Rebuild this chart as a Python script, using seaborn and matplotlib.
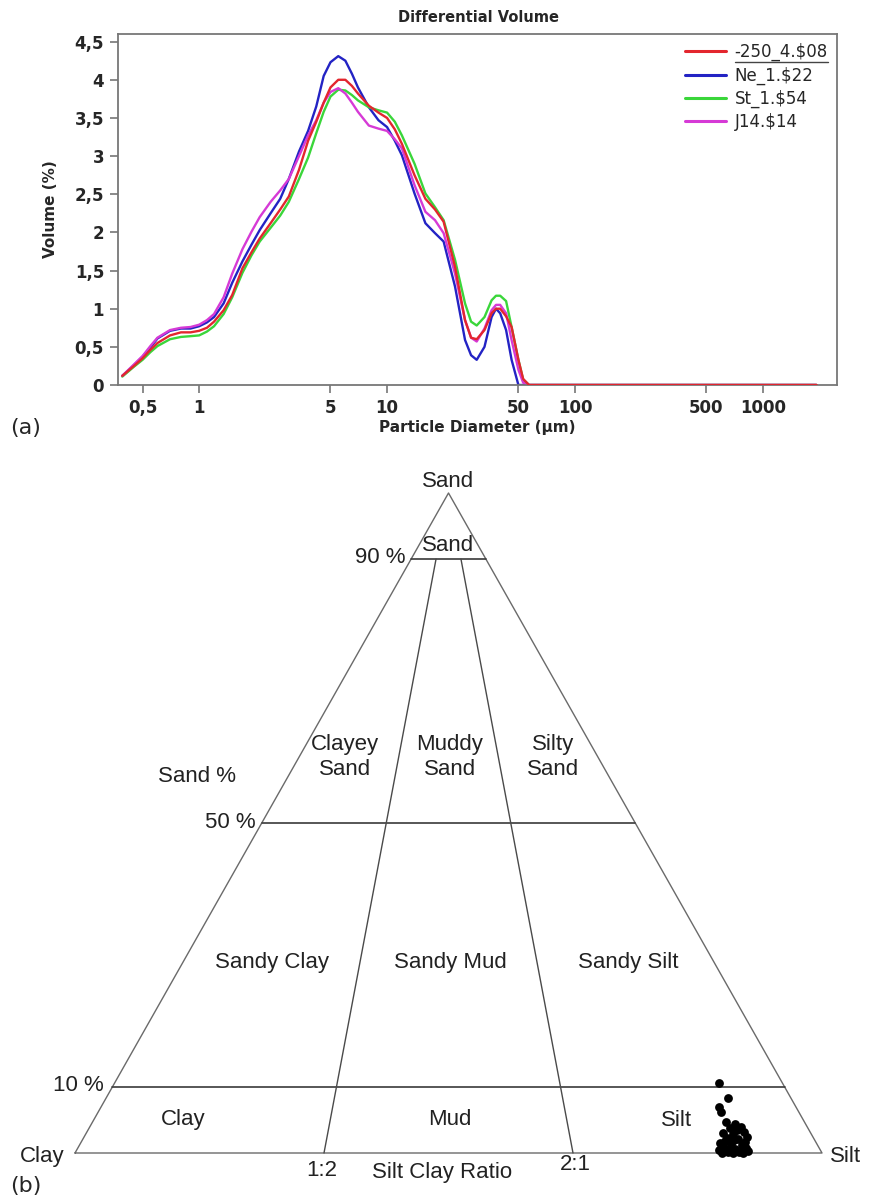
import numpy as np
import pandas as pd
import matplotlib
matplotlib.use("Agg")
import matplotlib.pyplot as plt
import seaborn as sns
from matplotlib.lines import Line2D
from matplotlib.ticker import FixedLocator, FuncFormatter, NullLocator

sns.set_style("white")
plt.rcParams['font.family'] = ['DejaVu Sans']

# particle diameter (um) grid, shared by all four samples
diameter = [0.39, 0.45, 0.5, 0.55, 0.6, 0.7, 0.8, 0.9, 1.0, 1.1, 1.2, 1.35, 1.5, 1.7, 1.9,
            2.1, 2.4, 2.7, 3.0, 3.4, 3.8, 4.2, 4.6, 5.0, 5.5, 6.0, 6.5, 7.0, 8.0, 9.0,
            10, 11, 12, 14, 16, 18, 20, 23, 26, 28, 30, 33, 36, 38, 40, 43, 46, 50, 53,
            57, 60, 100, 500, 1000, 1930]

vol_250_4 = [0.12, 0.25, 0.35, 0.46, 0.55, 0.65, 0.69, 0.69, 0.71, 0.75, 0.83, 0.98, 1.18, 1.53, 1.74,
             1.92, 2.12, 2.3, 2.47, 2.82, 3.2, 3.45, 3.7, 3.9, 4.0, 4.0, 3.92, 3.82, 3.66, 3.57,
             3.5, 3.35, 3.16, 2.75, 2.44, 2.3, 2.14, 1.55, 0.85, 0.62, 0.6, 0.72, 0.94, 1.0, 1.0, 0.9, 0.76, 0.33, 0.08,
             0, 0, 0, 0, 0, 0]
vol_ne_1 = [0.12, 0.26, 0.37, 0.49, 0.61, 0.71, 0.74, 0.74, 0.77, 0.82, 0.89, 1.07, 1.34, 1.62, 1.84,
            2.03, 2.25, 2.44, 2.7, 3.06, 3.33, 3.65, 4.05, 4.23, 4.31, 4.25, 4.08, 3.9, 3.64, 3.47,
            3.38, 3.2, 3.01, 2.51, 2.12, 1.99, 1.88, 1.29, 0.59, 0.39, 0.33, 0.5, 0.89, 1.0, 0.94, 0.72, 0.33, 0.0, 0,
            0, 0, 0, 0, 0, 0]
vol_st_1 = [0.11, 0.24, 0.33, 0.43, 0.51, 0.6, 0.63, 0.64, 0.65, 0.7, 0.77, 0.93, 1.15, 1.47, 1.7,
            1.88, 2.06, 2.22, 2.4, 2.7, 2.98, 3.3, 3.58, 3.78, 3.87, 3.86, 3.8, 3.73, 3.64, 3.6,
            3.57, 3.45, 3.27, 2.9, 2.51, 2.33, 2.16, 1.64, 1.07, 0.83, 0.78, 0.89, 1.11, 1.17, 1.17, 1.1, 0.76, 0.33, 0.07,
            0, 0, 0, 0, 0, 0]
vol_j14 = [0.12, 0.27, 0.38, 0.51, 0.62, 0.72, 0.75, 0.76, 0.79, 0.85, 0.93, 1.15, 1.46, 1.78, 2.01,
           2.2, 2.4, 2.55, 2.7, 3.0, 3.27, 3.47, 3.7, 3.84, 3.89, 3.82, 3.7, 3.58, 3.4, 3.36,
           3.33, 3.22, 3.1, 2.62, 2.27, 2.16, 1.99, 1.46, 0.85, 0.62, 0.57, 0.74, 0.98, 1.05, 1.05, 0.94, 0.59, 0.2, 0.03,
           0, 0, 0, 0, 0, 0]

sample_names = ["-250_4.\\$08", "Ne_1.\\$22", "St_1.\\$54", "J14.\\$14"]
sample_colors = ["#e3262e", "#2323c4", "#3ad63a", "#d63ad6"]
x_ticks = [0.5, 1, 5, 10, 50, 100, 500, 1000]
y_ticks = [0, 0.5, 1, 1.5, 2, 2.5, 3, 3.5, 4, 4.5]

# ternary samples (sand %, silt %, clay %)
sand_pct = [10.6, 8.3, 7.0, 6.2, 4.7, 4.4, 3.8, 3.9, 3.0, 2.9, 3.2, 2.3, 2.1, 2.4, 1.5, 1.4,
            1.2, 0.8, 0.6, 0.8, 0.5, 0.2, 0.2, 0.3, 0.0, 0.0, 0.0, 0.8, 3.5, 1.7, 1.8, 2.0]
silt_pct = [80.9, 83.2, 82.7, 83.4, 84.8, 86.2, 85.8, 87.2, 85.3, 86.6, 88.0, 86.1, 87.7, 88.8, 85.6, 87.1,
            88.7, 86.5, 88.1, 89.4, 86.0, 87.3, 88.8, 90.0, 86.6, 88.1, 89.4, 87.3, 86.9, 88.9, 86.1, 87.2]
clay_pct = [8.5, 8.5, 10.3, 10.4, 10.5, 9.4, 10.4, 8.9, 11.7, 10.5, 8.8, 11.6, 10.2, 8.8, 12.9, 11.5,
            10.1, 12.7, 11.3, 9.8, 13.5, 12.5, 11.0, 9.7, 13.4, 11.9, 10.6, 11.9, 9.6, 9.4, 12.1, 10.8]

W, H = 872, 1200
fig = plt.figure(figsize=(W / 100, H / 100), dpi=100)

# ---------------- (a) differential volume ----------------
ax = fig.add_axes([118 / W, 1 - 385 / H, 719 / W, 351 / H])
ax.set_xscale("log")
for vals, name, col in zip([vol_250_4, vol_ne_1, vol_st_1, vol_j14], sample_names, sample_colors):
    sns.lineplot(x=diameter, y=vals, color=col, lw=1.7, label=name, ax=ax, estimator=None)
# red drawn last on the flat tail like the original
ax.lines[0].set_zorder(5)

ax.set_xlim(0.37, 2480)
ax.set_ylim(0, 4.6)
comma = FuncFormatter(lambda v, p: ("%g" % v).replace(".", ","))
ax.xaxis.set_major_locator(FixedLocator(x_ticks))
ax.xaxis.set_minor_locator(NullLocator())
ax.xaxis.set_major_formatter(comma)
ax.yaxis.set_major_locator(FixedLocator(y_ticks))
ax.yaxis.set_major_formatter(comma)
ax.tick_params(axis="both", direction="out", length=6, width=1.2, color="#777777",
               labelsize=12, pad=4, bottom=True, left=True)
for lab in ax.get_xticklabels() + ax.get_yticklabels():
    lab.set_fontweight("bold")
for sp in ax.spines.values():
    sp.set_color("#777777")
    sp.set_linewidth(1.3)

ax.set_xlabel("Particle Diameter (µm)", fontsize=11, fontweight="bold", labelpad=2)
ax.set_ylabel("Volume (%)", fontsize=11, fontweight="bold", labelpad=12)
fig.text(478 / W, 1 - 17 / H, "Differential Volume", ha="center", va="center",
         fontsize=10.5, fontweight="bold")

leg = ax.legend(loc="upper right", frameon=False, fontsize=12, handlelength=2.5,
                handletextpad=0.5, labelspacing=0.3, borderaxespad=0.15)
for h in leg.get_lines():
    h.set_linewidth(2.2)
fig.text(26 / W, 1 - 428 / H, "(a)", ha="center", va="center", fontsize=16)

# ---------------- (b) Folk ternary ----------------
tx = fig.add_axes([75 / W, 47 / H, 747 / W, 660 / H])
tx.set_xlim(0, 1)
tx.set_ylim(0, 1)
tx.axis("off")


def tern(sand, silt):
    return silt / 100 + 0.5 * sand / 100, sand / 100


edge = "#6a6a6a"
tx.plot([0, 1, 0.5, 0], [0, 0, 1, 0], color=edge, lw=1.0, clip_on=False)
for s in [10, 50, 90]:
    a = tern(s, 0)
    b = tern(s, 100 - s)
    tx.plot([a[0], b[0]], [a[1], b[1]], color="#3a3a3a", lw=1.2, clip_on=False)
for r in [1 / 3, 2 / 3]:
    a = tern(0, 100 * r)
    b = tern(90, 10 * r)
    tx.plot([a[0], b[0]], [a[1], b[1]], color="#4a4a4a", lw=1.0, clip_on=False)

px = [tern(s, si)[0] for s, si in zip(sand_pct, silt_pct)]
py = [tern(s, si)[1] for s, si in zip(sand_pct, silt_pct)]
sns.scatterplot(x=px, y=py, color="black", s=40, edgecolor="black", linewidth=0,
                ax=tx, clip_on=False, zorder=5)

tf = dict(fontsize=16, family=["Liberation Sans", "DejaVu Sans"], color="#222222",
          ha="center", va="center", linespacing=1.2)
labels = [
    ("Sand", 0.4993, 1.018), ("Sand", 0.4993, 0.921),
    ("Sand %", 0.1633, 0.571),
    ("Clayey\nSand", 0.3614, 0.60), ("Muddy\nSand", 0.502, 0.60), ("Silty\nSand", 0.64, 0.60),
    ("Sandy Clay", 0.2637, 0.289), ("Sandy Mud", 0.502, 0.289), ("Sandy Silt", 0.7403, 0.289),
    ("Clay", 0.1446, 0.0515), ("Mud", 0.502, 0.0515), ("Silt", 0.8046, 0.0485),
    ("Clay", -0.0442, -0.006), ("Silt", 1.032, -0.006),
    ("1:2", 0.3307, -0.0258), ("2:1", 0.6693, -0.018), ("Silt Clay Ratio", 0.4913, -0.029),
]
for t, x, y in labels:
    tx.text(x, y, t, **tf)
for t, x, y in [("90 %", 0.4418, 0.903), ("50 %", 0.2423, 0.5015), ("10 %", 0.0388, 0.103)]:
    tx.text(x, y, t, **{**tf, "ha": "right"})
fig.text(26 / W, 1 - 1186 / H, "(b)", ha="center", va="center", fontsize=16)

# underline the first (selected) legend entry
fig.canvas.draw()
bb = leg.get_texts()[0].get_window_extent()
fig.add_artist(Line2D([bb.x0 / W, bb.x1 / W], [(bb.y0 - 1) / H, (bb.y0 - 1) / H],
                      color="#444444", lw=1.0))

fig.savefig("out.png", dpi=100)
